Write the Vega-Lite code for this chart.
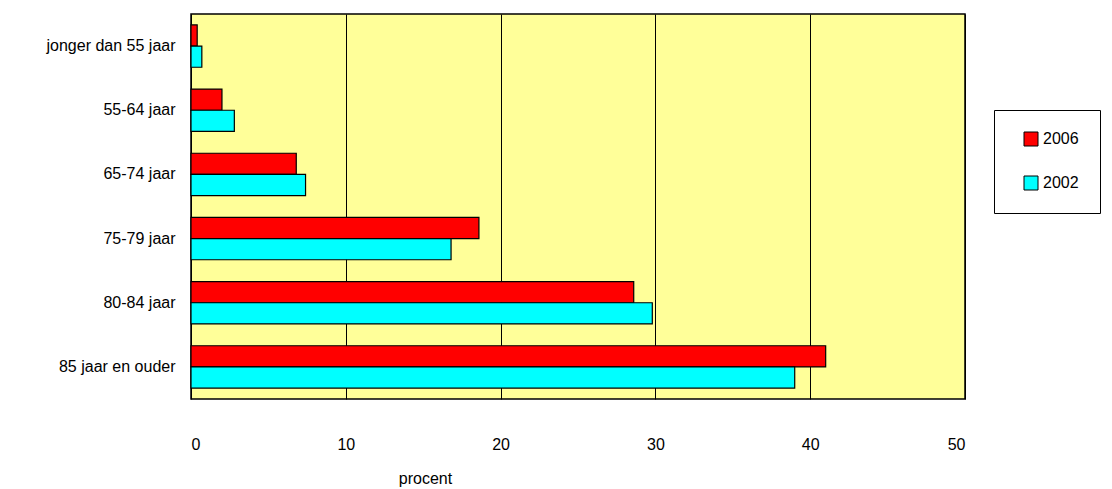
{
  "$schema": "https://vega.github.io/schema/vega-lite/v6.json",
  "autosize": "none",
  "padding": {"left": 191, "top": 14, "right": 147, "bottom": 90},
  "width": 774,
  "height": 385,
  "background": "#FFFFFF",
  "config": {
    "font": "Liberation Sans Narrow, Liberation Sans, sans-serif",
    "view": {"fill": "#FFFF99", "stroke": "#000000", "strokeWidth": 1.5}
  },
  "data": {
    "values": [
      {"leeftijd": "jonger dan 55 jaar", "jaar": "2006", "procent": 0.4},
      {"leeftijd": "jonger dan 55 jaar", "jaar": "2002", "procent": 0.7},
      {"leeftijd": "55-64 jaar", "jaar": "2006", "procent": 2.0},
      {"leeftijd": "55-64 jaar", "jaar": "2002", "procent": 2.8},
      {"leeftijd": "65-74 jaar", "jaar": "2006", "procent": 6.8},
      {"leeftijd": "65-74 jaar", "jaar": "2002", "procent": 7.4},
      {"leeftijd": "75-79 jaar", "jaar": "2006", "procent": 18.6},
      {"leeftijd": "75-79 jaar", "jaar": "2002", "procent": 16.8},
      {"leeftijd": "80-84 jaar", "jaar": "2006", "procent": 28.6},
      {"leeftijd": "80-84 jaar", "jaar": "2002", "procent": 29.8},
      {"leeftijd": "85 jaar en ouder", "jaar": "2006", "procent": 41.0},
      {"leeftijd": "85 jaar en ouder", "jaar": "2002", "procent": 39.0}
    ]
  },
  "mark": {"type": "bar", "stroke": "#000000", "strokeWidth": 1.2},
  "encoding": {
    "y": {
      "field": "leeftijd",
      "type": "nominal",
      "sort": ["jonger dan 55 jaar", "55-64 jaar", "65-74 jaar", "75-79 jaar", "80-84 jaar", "85 jaar en ouder"],
      "scale": {"paddingInner": 0.34, "paddingOuter": 0.17},
      "axis": {
        "title": null,
        "ticks": false,
        "domain": false,
        "labelPadding": 16,
        "labelFontSize": 16,
        "labelColor": "#000000",
        "labelLimit": 200
      }
    },
    "yOffset": {
      "field": "jaar",
      "type": "nominal",
      "sort": ["2006", "2002"]
    },
    "x": {
      "field": "procent",
      "type": "quantitative",
      "scale": {"domain": [0, 50], "nice": false},
      "axis": {
        "title": "procent",
        "titleFontSize": 16,
        "titleFontWeight": "normal",
        "titleColor": "#000000",
        "titleX": 234,
        "titleY": 71,
        "titleAlign": "center",
        "values": [0, 10, 20, 30, 40, 50],
        "ticks": false,
        "domain": false,
        "grid": true,
        "gridColor": "#000000",
        "gridOpacity": 1,
        "gridWidth": 1,
        "labelPadding": 37,
        "labelFontSize": 16,
        "labelColor": "#000000"
      }
    },
    "color": {
      "field": "jaar",
      "type": "nominal",
      "scale": {"domain": ["2006", "2002"], "range": ["#FF0000", "#00FFFF"]},
      "legend": {
        "title": null,
        "orient": "none",
        "legendX": 803,
        "legendY": 96,
        "direction": "vertical",
        "symbolType": "square",
        "symbolSize": 196,
        "symbolStrokeColor": "#000000",
        "symbolStrokeWidth": 1,
        "symbolOffset": 8,
        "labelFontSize": 16,
        "labelColor": "#000000",
        "rowPadding": 26,
        "padding": 21,
        "strokeColor": "#000000",
        "fillColor": "#FFFFFF"
      }
    }
  }
}
